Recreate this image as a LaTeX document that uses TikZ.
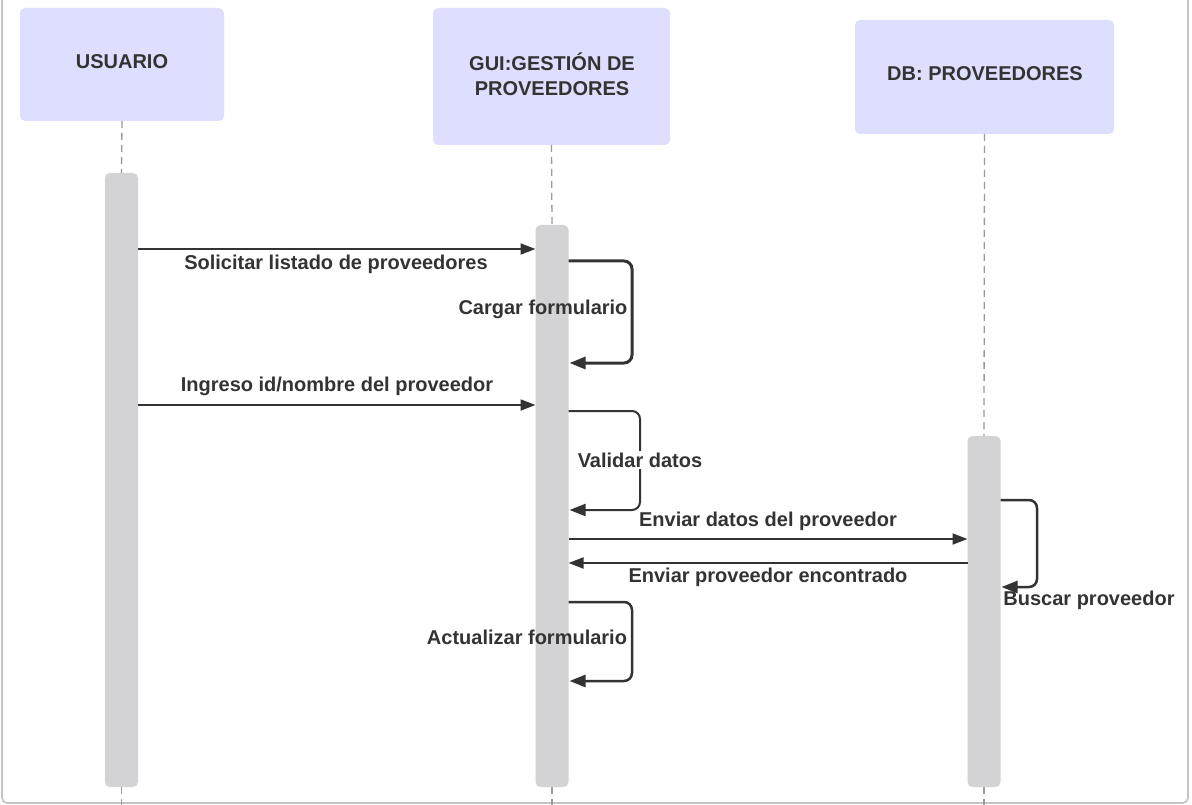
\documentclass[tikz,border=0pt]{standalone}
\usepackage{fontspec}
\setmainfont{Liberation Sans}
\usetikzlibrary{arrows.meta}
\definecolor{ink}{HTML}{333333}
\definecolor{headfill}{HTML}{DEDEFE}
\definecolor{barfill}{HTML}{D3D3D5}
\definecolor{lifegray}{HTML}{9A9A9A}
\definecolor{framegray}{HTML}{C4C4C4}
\begin{document}
\begin{tikzpicture}[x=1pt,y=-1pt,
  every node/.style={inner sep=0pt, outer sep=0pt},
  head/.style={fill=headfill, rounded corners=5pt, text=ink, align=center,
    font=\fontsize{20}{25}\selectfont\bfseries},
  actbar/.style={fill=barfill, rounded corners=5pt, minimum width=33pt},
  life/.style={draw=lifegray, line width=1.3pt, dash pattern=on 7pt off 5pt},
  msg/.style={draw=ink, line width=2pt, -{Triangle[length=15pt,width=11pt]}},
  loopline/.style={draw=ink, line width=2.6pt, rounded corners=8pt, -{Triangle[length=16pt,width=12pt]}},
  lbl/.style={text=ink, font=\fontsize{20}{24}\selectfont\bfseries}
]
\useasboundingbox (0,0) rectangle (1192,805);

% outer frame (open at the top)
\draw[framegray, line width=1.6pt, rounded corners=5pt] (2,-4) -- (2,803) -- (1188,803) -- (1188,-4);

% participants
\node[head, minimum width=204pt, minimum height=113pt] (usr) at (122,64.5) {};
\node[lbl] at (122,62) {USUARIO};
\node[head, minimum width=237pt, minimum height=137pt] (gui) at (551.5,76.5) {};
\node[lbl, align=center, font=\fontsize{20}{25}\selectfont\bfseries] at (552,74) {GUI:GESTIÓN DE\\PROVEEDORES};
\node[head, minimum width=259pt, minimum height=114pt] (db) at (984.5,77) {};
\node[lbl] at (985,74) {DB: PROVEEDORES};

% activation bars
\node[actbar, minimum height=614pt] (ubar) at (121.5,480) {};
\node[actbar, minimum height=562pt] (gbar) at (552,506) {};
\node[actbar, minimum height=351pt] (dbar) at (984,611.5) {};

% lifelines
\draw[life] (usr.south) -- (ubar.north);
\draw[life] (gui.south) -- (gbar.north);
\draw[life] (db.south) -- (dbar.north);
\draw[life] (ubar.south) -- (ubar.south |- 0,805);
\draw[life] (gbar.south) -- (gbar.south |- 0,805);
\draw[life] (dbar.south) -- (dbar.south |- 0,805);

% messages
\draw[msg] (ubar.east |- 0,249) -- (gbar.west |- 0,249);
\node[lbl] at (336,264) {Solicitar listado de proveedores};

\draw[loopline, line width=3pt] (gbar.east |- 0,261) -- (632,261) -- (632,363) -- ([xshift=1pt]gbar.east |- 0,363);
\node[lbl] at (543,309) {Cargar formulario};

\draw[msg] (ubar.east |- 0,405) -- (gbar.west |- 0,405);
\node[lbl] at (337,386) {Ingreso id/nombre del proveedor};

\draw[loopline, line width=2pt] (gbar.east |- 0,411) -- (640,411) -- (640,510) -- ([xshift=1pt]gbar.east |- 0,510);
\node[lbl, fill=white, inner sep=2pt] at (640,460) {Validar datos};

\draw[msg] (gbar.east |- 0,539) -- (dbar.west |- 0,539);
\node[lbl] at (768,521) {Enviar datos del proveedor};

\draw[msg] (dbar.west |- 0,563) -- (gbar.east |- 0,563);
\node[lbl] at (768,577) {Enviar proveedor encontrado};

\draw[loopline, line width=2.5pt] (dbar.east |- 0,500) -- (1037,500) -- (1037,587) -- ([xshift=1pt]dbar.east |- 0,587);
\node[lbl] at (1089,600) {Buscar proveedor};

\draw[loopline, line width=2.5pt] (gbar.east |- 0,602) -- (632,602) -- (632,681) -- ([xshift=1pt]gbar.east |- 0,681);
\node[lbl] at (527,637) {Actualizar formulario};
\end{tikzpicture}
\end{document}
